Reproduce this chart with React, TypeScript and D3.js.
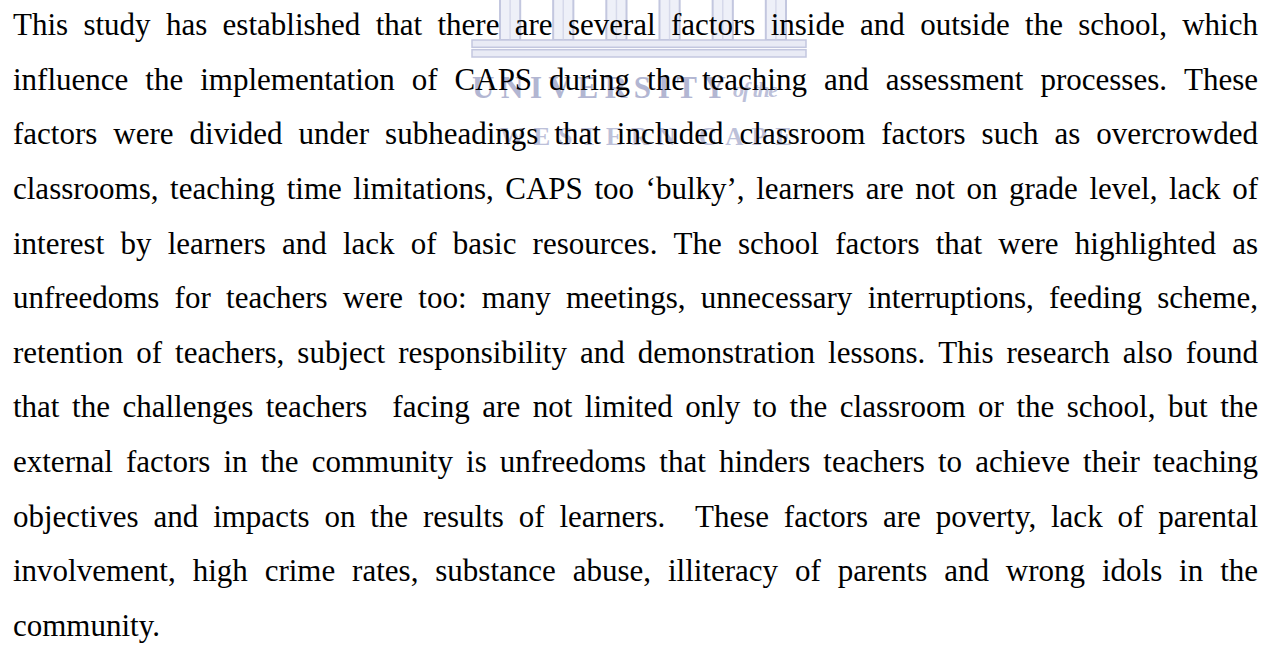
import { useEffect, useRef } from 'react';
import * as d3 from 'd3';

// Paragraph lines, as broken in the picture (double spaces kept)
const LINES: string[] = [
  'This study has established that there are several factors inside and outside the school, which',
  'influence the implementation of CAPS during the teaching and assessment processes. These',
  'factors were divided under subheadings that included classroom factors such as overcrowded',
  'classrooms, teaching time limitations, CAPS too \u2018bulky\u2019, learners are not on grade level, lack of',
  'interest by learners and lack of basic resources. The school factors that were highlighted as',
  'unfreedoms for teachers were too: many meetings, unnecessary interruptions, feeding scheme,',
  'retention of teachers, subject responsibility and demonstration lessons. This research also found',
  'that the challenges teachers  facing are not limited only to the classroom or the school, but the',
  'external factors in the community is unfreedoms that hinders teachers to achieve their teaching',
  'objectives and impacts on the results of learners.  These factors are poverty, lack of parental',
  'involvement, high crime rates, substance abuse, illiteracy of parents and wrong idols in the',
  'community.',
];

// Faint university crest behind the text
const COLUMNS = ['c1', 'c2', 'c3', 'c4', 'c5', 'c6'];
const STEPS = ['upper', 'lower'];
const CREST_TITLE = 'UNIVERSITY';
const CREST_OF = 'of the';
const CREST_SUB = 'WESTERN CAPE';

export default function App() {
  const svgRef = useRef<SVGSVGElement>(null);

  useEffect(() => {
    if (!svgRef.current) return;
    const svg = d3.select(svgRef.current);
    svg.selectAll('*').remove();

    const width = 1271;
    const height = 647;
    const left = 13;
    const right = 1258;
    const fontSize = 31;
    const serif = '"Liberation Serif", "Times New Roman", serif';

    // line positions
    const y = d3.scaleLinear().domain([0, LINES.length - 1]).range([35, 636]);

    // crest
    const crest = svg.append('g');
    const mark = '#c3c7df';
    const colX = d3.scaleBand().domain(COLUMNS).range([500, 786]).paddingInner(0.62);
    crest.selectAll('rect.col')
      .data(COLUMNS)
      .join('rect')
      .attr('class', 'col')
      .attr('x', d => colX(d)!)
      .attr('y', -4)
      .attr('width', colX.bandwidth())
      .attr('height', 44)
      .attr('fill', '#eef0f8')
      .attr('stroke', mark)
      .attr('stroke-width', 2);
    crest.selectAll('line.flute')
      .data(COLUMNS)
      .join('line')
      .attr('class', 'flute')
      .attr('x1', d => colX(d)! + colX.bandwidth() / 2)
      .attr('x2', d => colX(d)! + colX.bandwidth() / 2)
      .attr('y1', -4)
      .attr('y2', 40)
      .attr('stroke', '#d6d9ea')
      .attr('stroke-width', 1.5);

    const stepY = d3.scaleBand().domain(STEPS).range([40, 57]).paddingInner(0.25);
    crest.selectAll('rect.step')
      .data(STEPS)
      .join('rect')
      .attr('class', 'step')
      .attr('x', 472)
      .attr('y', d => stepY(d)!)
      .attr('width', 334)
      .attr('height', stepY.bandwidth())
      .attr('fill', '#e9ebf5')
      .attr('stroke', mark)
      .attr('stroke-width', 1.5);

    crest.append('text')
      .attr('x', 472)
      .attr('y', 98)
      .attr('font-family', serif)
      .attr('font-weight', 'bold')
      .attr('font-size', 31)
      .attr('fill', '#b2b6d2')
      .attr('textLength', 254)
      .attr('lengthAdjust', 'spacing')
      .text(CREST_TITLE);
    crest.append('text')
      .attr('x', 733)
      .attr('y', 97)
      .attr('font-family', serif)
      .attr('font-style', 'italic')
      .attr('font-weight', 'bold')
      .attr('font-size', 22)
      .attr('fill', '#bcc0d9')
      .attr('textLength', 45)
      .attr('lengthAdjust', 'spacing')
      .text(CREST_OF);
    crest.append('text')
      .attr('x', 500)
      .attr('y', 145)
      .attr('font-family', serif)
      .attr('font-weight', 'bold')
      .attr('font-size', 25)
      .attr('fill', '#bcc0d9')
      .attr('textLength', 292)
      .attr('lengthAdjust', 'spacing')
      .text(CREST_SUB);

    // justified paragraph, word by word
    const body = svg.append('g')
      .attr('font-family', serif)
      .attr('font-size', fontSize)
      .attr('fill', '#000');

    LINES.forEach((line, i) => {
      const words = line.split(' ');
      const row = body.append('g');
      const nodes = words.map(w =>
        row.append('text').attr('y', y(i)).text(w).node() as SVGTextElement
      );
      const widths = nodes.map(n => (n.textContent ? n.getComputedTextLength() : 0));
      const total = d3.sum(widths);
      const gaps = words.length - 1;
      const isLast = i === LINES.length - 1;
      const gap = isLast || gaps === 0 ? fontSize * 0.25 : (right - left - total) / gaps;
      let x = left;
      nodes.forEach((n, k) => {
        d3.select(n).attr('x', x);
        x += widths[k] + gap;
      });
    });

    svg.attr('width', width).attr('height', height);
  }, []);

  return (
    <svg
      ref={svgRef}
      width={1271}
      height={647}
      style={{ position: 'absolute', left: 0, top: 0, display: 'block', background: '#fff' }}
    />
  );
}
